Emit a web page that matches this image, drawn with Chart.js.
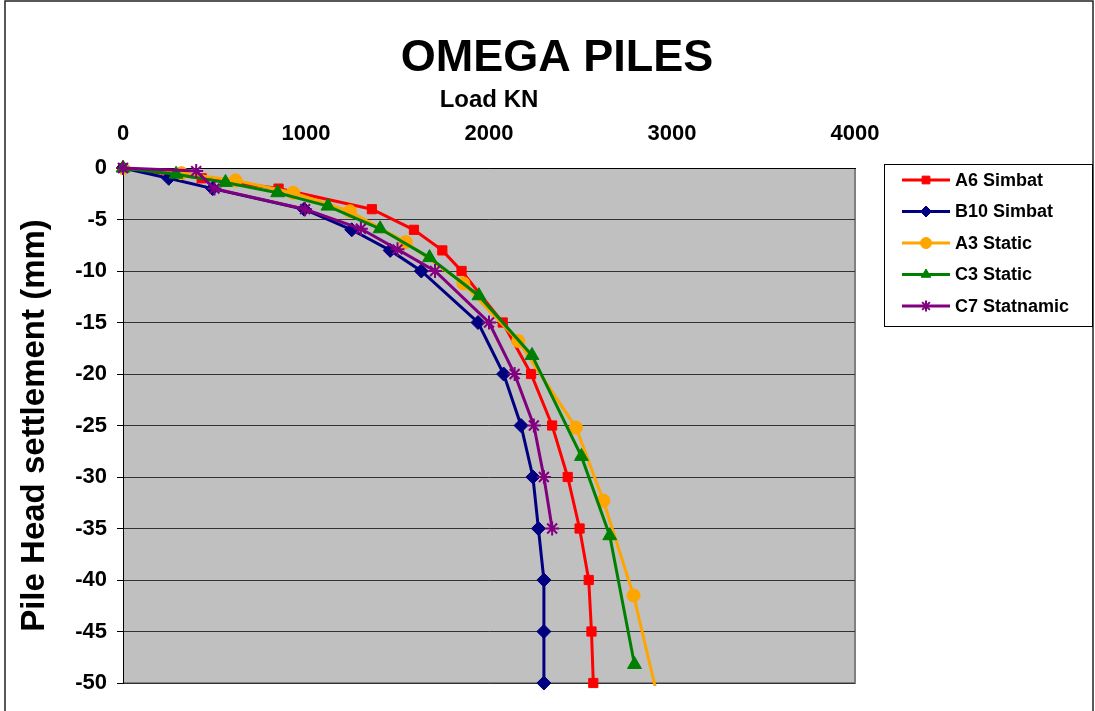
<!DOCTYPE html>
<html>
<head>
<meta charset="utf-8">
<title>OMEGA PILES</title>
<script src="https://cdn.jsdelivr.net/npm/chart.js@4.4.1/dist/chart.umd.min.js"></script>
<style>
  html, body { margin: 0; padding: 0; background: #fff; overflow: hidden; }
  canvas { display: block; }
</style>
</head>
<body>
<canvas id="pilesChart" width="1095" height="711"></canvas>
<script>
// load (kN) and settlement (mm)
const chartTitle = 'OMEGA PILES';
const seriesNames = ['A6 Simbat', 'B10 Simbat', 'A3 Static', 'C3 Static', 'C7 Statnamic'];
const seriesColors = ['#FF0000', '#000080', '#FFA500', '#008000', '#800080'];
const seriesMarkers = ['rect', 'rectRot', 'circle', 'triangle', 'star'];

const a6Load = [0, 430, 850, 1360, 1590, 1745, 1850, 2075, 2230, 2345, 2430, 2495, 2545, 2560, 2570];
const a6Settle = [0, -1, -2, -4, -6, -8, -10, -15, -20, -25, -30, -35, -40, -45, -50];

const b10Load = [0, 250, 490, 990, 1250, 1460, 1630, 1940, 2080, 2175, 2240, 2270, 2300, 2300, 2300];
const b10Settle = [0, -1, -2, -4, -6, -8, -10, -15, -20, -25, -30, -35, -40, -45, -50];

const a3Load = [0, 320, 615, 930, 1240, 1545, 1860, 2160, 2475, 2625, 2790, 2930];
const a3Settle = [0, -0.5, -1.2, -2.4, -4.2, -7.2, -11.2, -16.8, -25.2, -32.3, -41.5, -52];

const c3Load = [0, 290, 560, 845, 1120, 1405, 1675, 1945, 2235, 2505, 2660, 2795];
const c3Settle = [0, -0.6, -1.4, -2.4, -3.7, -5.9, -8.7, -12.4, -18.2, -28, -35.7, -48.2];

const c7Load = [0, 400, 500, 995, 1300, 1500, 1705, 2000, 2140, 2245, 2300, 2345];
const c7Settle = [0, -0.3, -2, -4, -5.9, -7.9, -10, -15, -20, -25, -30, -35];

const loadTicks = [0, 1000, 2000, 3000, 4000];
const settleTicks = [0, -5, -10, -15, -20, -25, -30, -35, -40, -45, -50];

const allLoads = [a6Load, b10Load, a3Load, c3Load, c7Load];
const allSettles = [a6Settle, b10Settle, a3Settle, c3Settle, c7Settle];
const markerSize = [6.5, 7, 6.5, 8, 7];

Chart.defaults.font.family = '"Liberation Sans", Arial, sans-serif';
Chart.defaults.color = '#000';

const datasets = seriesNames.map((name, i) => ({
  label: name,
  data: allLoads[i].map((x, j) => ({ x: x, y: allSettles[i][j] })),
  showLine: true,
  borderColor: seriesColors[i],
  backgroundColor: seriesColors[i],
  borderWidth: 3,
  pointStyle: seriesMarkers[i],
  pointRadius: markerSize[i],
  pointHoverRadius: markerSize[i],
  pointBackgroundColor: seriesColors[i],
  pointBorderColor: seriesColors[i],
  pointBorderWidth: seriesMarkers[i] == 'star' ? 2 : 1,
  order: seriesNames.length - i,
  clip: name == 'A3 Static' ? 3 : false
}));

// grey plot area, frames and the big title centred on the whole page
const plotFrame = {
  id: 'plotFrame',
  beforeDraw(chart) {
    const { ctx, chartArea: a } = chart;
    ctx.save();
    ctx.fillStyle = '#fff';
    ctx.fillRect(0, 0, chart.width, chart.height);
    ctx.fillStyle = '#C0C0C0';
    ctx.fillRect(a.left, a.top, a.right - a.left, a.bottom - a.top);
    ctx.strokeStyle = '#808080';
    ctx.lineWidth = 2;
    ctx.beginPath();
    ctx.moveTo(a.right, a.top);
    ctx.lineTo(a.right, a.bottom);
    ctx.lineTo(a.left, a.bottom);
    ctx.stroke();
    ctx.strokeStyle = '#222';
    ctx.lineWidth = 1.5;
    ctx.strokeRect(5, 1, 1088, 730);
    ctx.fillStyle = '#000';
    ctx.font = 'bold 45px "Liberation Sans", Arial, sans-serif';
    ctx.textAlign = 'center';
    ctx.textBaseline = 'middle';
    ctx.fillText(chartTitle, 557, 59);
    ctx.restore();
  }
};

// legend drawn like the spreadsheet one: line with marker
const boxLegend = {
  id: 'boxLegend',
  afterDraw(chart) {
    const ctx = chart.ctx;
    ctx.save();
    ctx.strokeStyle = '#000';
    ctx.lineWidth = 1;
    ctx.strokeRect(884.5, 164.5, 208, 162);
    chart.data.datasets.forEach((ds, i) => {
      const y = 180 + i * 31.5;
      ctx.strokeStyle = ds.borderColor;
      ctx.lineWidth = 3;
      ctx.beginPath();
      ctx.moveTo(902, y);
      ctx.lineTo(950, y);
      ctx.stroke();
      ctx.fillStyle = ds.borderColor;
      ctx.lineWidth = ds.pointStyle == 'star' ? 2 : 1;
      Chart.helpers.drawPoint(ctx, { pointStyle: ds.pointStyle, radius: 5.5, rotation: 0, borderWidth: ctx.lineWidth }, 926, y);
      ctx.fillStyle = '#000';
      ctx.font = 'bold 18px "Liberation Sans", Arial, sans-serif';
      ctx.textBaseline = 'middle';
      ctx.textAlign = 'left';
      ctx.fillText(ds.label, 955, y + 1);
    });
    ctx.restore();
  }
};

new Chart(document.getElementById('pilesChart'), {
  type: 'scatter',
  data: { datasets: datasets },
  plugins: [plotFrame, boxLegend],
  options: {
    responsive: false,
    animation: false,
    events: [],
    layout: { padding: { top: 0, left: 0, right: 240, bottom: 28 } },
    plugins: {
      legend: { display: false },
      tooltip: { enabled: false },
      title: { display: false }
    },
    scales: {
      x: {
        type: 'linear',
        position: 'top',
        min: 0,
        max: 4000,
        afterFit(scale) { scale.height = 168; },
        afterBuildTicks(scale) { scale.ticks = loadTicks.map(v => ({ value: v })); },
        grid: { display: false, drawTicks: false, tickLength: 0 },
        border: { display: true, color: '#000', width: 1 },
        ticks: {
          padding: 21,
          font: { size: 22, weight: 'bold' },
          color: '#000',
          callback: v => String(v)
        },
        title: {
          display: true,
          text: 'Load KN',
          font: { size: 24, weight: 'bold' },
          color: '#000',
          padding: { top: 86, bottom: 0 }
        }
      },
      y: {
        type: 'linear',
        min: -50,
        max: 0,
        afterFit(scale) { scale.width = 123; },
        afterBuildTicks(scale) { scale.ticks = settleTicks.map(v => ({ value: v })); },
        grid: { color: '#333', lineWidth: 1, drawTicks: true, tickLength: 6, tickColor: '#000' },
        border: { display: true, color: '#000', width: 1 },
        ticks: { padding: 10, font: { size: 22, weight: 'bold' }, color: '#000' },
        title: {
          display: true,
          text: 'Pile Head settlement (mm)',
          font: { size: 33, weight: 'bold' },
          color: '#000',
          padding: { top: 15, bottom: 0 }
        }
      }
    }
  }
});
</script>
</body>
</html>
